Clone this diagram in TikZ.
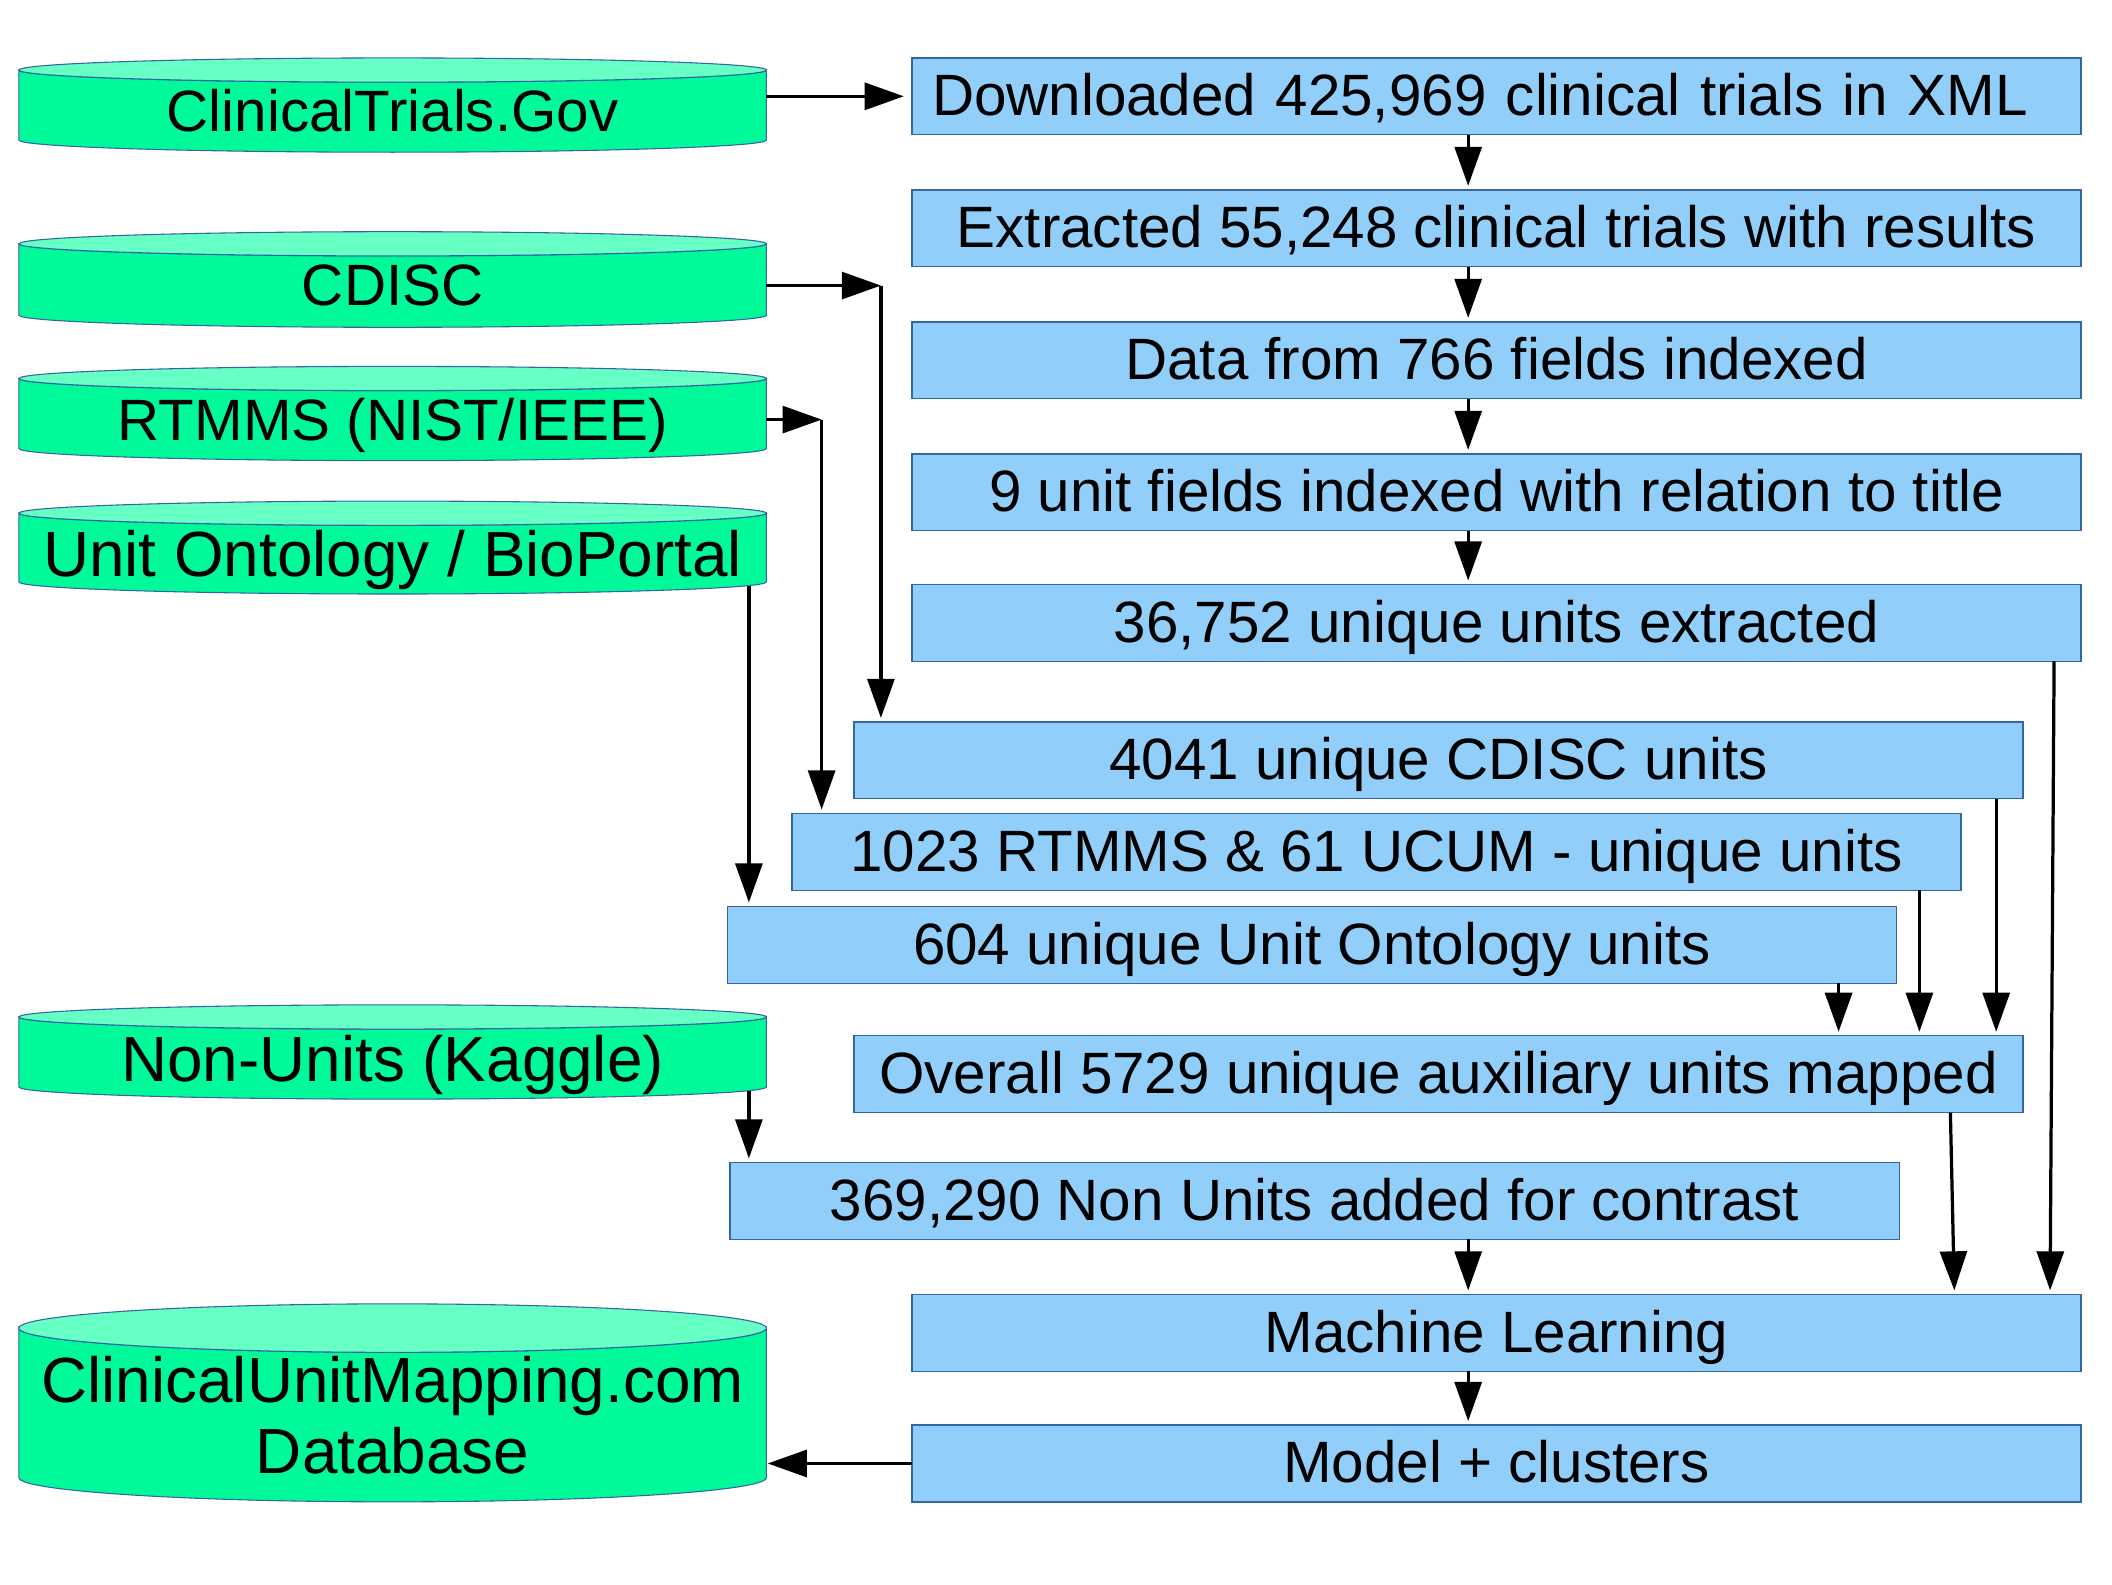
\documentclass[tikz,border=0pt]{standalone}
\usepackage{fontspec}
\setmainfont{Liberation Sans}
\usetikzlibrary{arrows.meta,calc,backgrounds}
\definecolor{boxfill}{RGB}{145,207,250}
\definecolor{boxline}{RGB}{52,101,164}
\definecolor{cylbody}{RGB}{0,250,154}
\definecolor{cyltop}{RGB}{102,255,196}
\newcommand\drawcyl[2]{%
  \path[cylline, fill=cylbody] (#1.north west) -- ([yshift=#2pt]#1.south west)
    arc[start angle=180, end angle=360, x radius=277.5pt, y radius=#2pt]
    -- (#1.north east)
    arc[start angle=0, end angle=-180, x radius=277.5pt, y radius=#2pt] -- cycle;
  \path[cylline, fill=cyltop] (#1.north) ellipse [x radius=277.5pt, y radius=#2pt];
}
\begin{document}
\begin{tikzpicture}[x=1pt,y=-1pt,
  every node/.style={font=\fontsize{43.3}{53}\selectfont, inner sep=0pt, outer sep=0pt},
  procbox/.style={draw=boxline, fill=boxfill, line width=1pt, minimum width=868pt, minimum height=57pt, anchor=north west, text height=31pt, text depth=2.5pt},
  cylnode/.style={minimum width=555pt, anchor=north west, align=center},
  bigtext/.style={font=\fontsize{47.4}{53}\selectfont},
  arr/.style={line width=2.4pt, -{Triangle[length=29pt,width=20pt]}, shorten >=3pt},
  cylline/.style={draw=boxline, line width=0.8pt}]

\useasboundingbox (0,0) rectangle (1568,1176);

% process boxes
\node[procbox, inner xsep=15pt, text width=838pt, align=left] (b1) at (677,43) {Downloaded 425,969 clinical trials in XML};
\node[procbox] (b2) at (677,141) {Extracted 55,248 clinical trials with results};
\node[procbox] (b3) at (677,239) {Data from 766 fields indexed};
\node[procbox] (b4) at (677,337) {9 unit fields indexed with relation to title};
\node[procbox] (b5) at (677,434) {36,752 unique units extracted};
\node[procbox] (b6) at (634,536) {4041 unique CDISC units};
\node[procbox] (b7) at (588,604) {1023 RTMMS \& 61 UCUM - unique units};
\node[procbox] (b8) at (540,673) {604 unique Unit Ontology units};
\node[procbox] (b9) at (634,769) {Overall 5729 unique auxiliary units mapped};
\node[procbox] (b10) at (542,863) {369,290 Non Units added for contrast};
\node[procbox] (b11) at (677,961) {Machine Learning};
\node[procbox] (b12) at (677,1058) {Model + clusters};

% cylinders (node spans from top-ellipse centre to bottom)
\node[cylnode, minimum height=61pt] (c1) at (14,52) {ClinicalTrials.Gov};
\node[cylnode, minimum height=62pt] (c2) at (14,181) {CDISC};
\node[cylnode, minimum height=61pt, text depth=0pt] (c3) at (14,281) {RTMMS (NIST/IEEE)};
\node[cylnode, bigtext, minimum height=60pt, text depth=0pt] (c4) at (14,381) {Unit Ontology / BioPortal};
\node[cylnode, bigtext, minimum height=61pt, text depth=0pt] (c5) at (14,755) {Non-Units (Kaggle)};
\node[cylnode, bigtext, minimum height=129pt] (c6) at (14,986) {ClinicalUnitMapping.com\\Database};

\begin{scope}[on background layer]
  \drawcyl{c1}{9}
  \drawcyl{c2}{9}
  \drawcyl{c3}{9}
  \drawcyl{c4}{9}
  \drawcyl{c5}{9}
  \drawcyl{c6}{18}
\end{scope}

% connectors
\draw[arr, shorten >=6pt] (c1.east |- b1.west) -- (b1.west);

\coordinate (k2b) at ([xshift=20pt]b6.north west);
\coordinate (k2a) at (c2.east -| k2b);
\draw[arr, shorten >=0pt] (c2.east) -- (k2a);
\draw[arr] (k2a) -- (k2b);

\coordinate (k3b) at ([xshift=22pt]b7.north west);
\coordinate (k3a) at (c3.east -| k3b);
\draw[arr, shorten >=0pt] (c3.east) -- (k3a);
\draw[arr] (k3a) -- (k3b);

\coordinate (a4s) at ([xshift=-13pt,yshift=6pt]c4.south east);
\draw[arr] (a4s) -- (a4s |- b8.north);

\coordinate (a5s) at ([xshift=-13pt,yshift=6pt]c5.south east);
\draw[arr] (a5s) -- (a5s |- b10.north);

\foreach \a/\b in {b1/b2,b2/b3,b3/b4,b4/b5,b11/b12}
  \draw[arr] ([xshift=-21pt]\a.south) -- ([xshift=-21pt]\b.north);

\coordinate (a15e) at ([xshift=-21pt]b11.north);
\draw[arr] (a15e |- b10.south) -- (a15e);

\draw[arr] ([xshift=-20pt]b5.south east) -- ([xshift=-23pt]b11.north east);
\draw[arr] ([xshift=-20pt]b6.south east) -- ([xshift=-20pt]b9.north east);
\coordinate (a12s) at ([xshift=-31pt]b7.south east);
\draw[arr] (a12s) -- (a12s |- b9.north);
\coordinate (a13s) at ([xshift=-43pt]b8.south east);
\draw[arr] (a13s) -- (a13s |- b9.north);
\draw[arr] ([xshift=-54pt]b9.south east) -- ([xshift=-94pt]b11.north east);

\draw[arr, shorten >=1pt] (b12.west) -- (b12.west -| c6.east);
\end{tikzpicture}
\end{document}
